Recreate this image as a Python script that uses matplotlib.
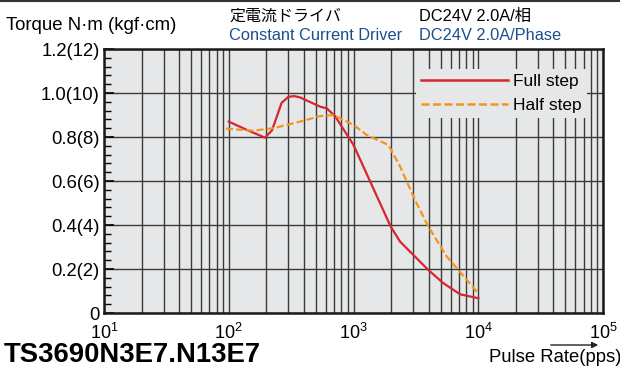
import matplotlib
matplotlib.use("Agg")
import numpy as np
import matplotlib.pyplot as plt
from matplotlib.lines import Line2D
from matplotlib.ticker import FixedLocator, LogLocator, NullFormatter

plt.rcParams['font.family'] = ['Liberation Sans', 'Noto Sans CJK JP', 'DejaVu Sans']
plt.rcParams['mathtext.fontset'] = 'custom'
plt.rcParams['mathtext.rm'] = 'Liberation Sans'

# ---- data ----
full_pps = [100, 140, 195, 222, 242, 265, 300, 334, 373, 540, 611, 711, 1000, 1990, 2366, 3990, 5266, 7160, 10000]
full_torque = [0.87, 0.832, 0.797, 0.83, 0.89, 0.955, 0.982, 0.986, 0.98, 0.938, 0.93, 0.895, 0.764, 0.392, 0.324, 0.195, 0.135, 0.085, 0.067]

half_pps = [95, 157, 228, 373, 540, 690, 1000, 1277, 1905, 2366, 3112, 3990, 5600, 10000]
half_torque = [0.838, 0.829, 0.84, 0.87, 0.895, 0.9, 0.855, 0.809, 0.764, 0.665, 0.514, 0.392, 0.256, 0.09]

y_ticks = [0, 0.2, 0.4, 0.6, 0.8, 1.0, 1.2]
y_labels = ['0', '0.2(2)', '0.4(4)', '0.6(6)', '0.8(8)', '1.0(10)', '1.2(12)']
x_ticks = [10, 100, 1000, 10000, 100000]
x_labels = ['$10^{1}$', '$10^{2}$', '$10^{3}$', '$10^{4}$', '$10^{5}$']

RED = '#d7262e'
ORANGE = '#f7941d'
BLUE = '#1b4f8c'
GRID = '#3a3a3a'

fig = plt.figure(figsize=(6.2, 3.67), dpi=100)
ax = fig.add_axes([104 / 620, 1 - 313 / 367, (603 - 104) / 620, (313 - 49) / 367])
ax.set_facecolor('#e6e7e8')

ax.set_xscale('log')
ax.set_xlim(10, 100000)
ax.set_ylim(0, 1.2)

ax.plot(full_pps, full_torque, color=RED, lw=1.6, label='Full step', zorder=3)
ax.plot(half_pps, half_torque, color=ORANGE, lw=1.6, ls=(0, (3.2, 1.4)), label='Half step', zorder=3)

ax.set_xticks(x_ticks)
ax.set_xticklabels(x_labels, fontsize=13)
ax.xaxis.set_minor_locator(LogLocator(base=10, subs=np.arange(2, 10)))
ax.xaxis.set_minor_formatter(NullFormatter())
ax.set_yticks(y_ticks)
ax.set_yticklabels(y_labels, fontsize=13.3)
ax.yaxis.set_minor_locator(FixedLocator(np.arange(0, 1.21, 0.04)))

ax.grid(which='major', color=GRID, lw=1.0)
ax.grid(which='minor', axis='x', color=GRID, lw=1.0)
ax.set_axisbelow(True)
ax.tick_params(axis='x', which='both', length=0, pad=7)
ax.tick_params(axis='y', which='major', direction='in', length=7, width=1.2, pad=3)
ax.tick_params(axis='y', which='minor', direction='in', length=5, width=1.0)
for s in ax.spines.values():
    s.set_linewidth(1.8)
    s.set_color('#1a1a1a')

leg = ax.legend(loc='upper right', bbox_to_anchor=((587 - 104) / 499, (313 - 69) / 264), fontsize=12.5,
                handlelength=5.0, handletextpad=0.3, labelspacing=0.5,
                frameon=True, facecolor='#e6e7e8', edgecolor='none', framealpha=1,
                borderpad=0.3, borderaxespad=0)
leg.set_zorder(4)
for h in leg.get_lines():
    h.set_linewidth(1.8)

# header texts
fig.text(6 / 620, 1 - 25 / 367, 'Torque N·m (kgf·cm)', fontsize=13.4, va='center', ha='left')
fig.text(229 / 620, 1 - 16 / 367, '定電流ドライバ', fontsize=11.5, va='center', ha='left',
         family=['Noto Sans CJK JP', 'Liberation Sans'])
fig.text(229 / 620, 1 - 35 / 367, 'Constant Current Driver', fontsize=11.8, va='center', ha='left', color=BLUE)
fig.text(419 / 620, 1 - 16 / 367, 'DC24V 2.0A/相', fontsize=11.8, va='center', ha='left')
fig.text(419 / 620, 1 - 35 / 367, 'DC24V 2.0A/Phase', fontsize=11.8, va='center', ha='left', color=BLUE)

fig.text(4 / 620, 1 - 355.5 / 367, 'TS3690N3E7.N13E7', fontsize=19.8, fontweight='bold', va='center', ha='left')
fig.text(489 / 620, 1 - 358 / 367, 'Pulse Rate(pps)', fontsize=13.3, va='center', ha='left')
ax.annotate('', xy=(601 / 620, 1 - 345 / 367), xytext=(548 / 620, 1 - 345 / 367),
            xycoords='figure fraction', textcoords='figure fraction',
            arrowprops=dict(arrowstyle='-|>', color='#222222', lw=1.0, mutation_scale=9))

fig.add_artist(Line2D([0, 1], [0.998, 0.998], transform=fig.transFigure, color='#333333', lw=1.5))

fig.savefig('out.png', dpi=100)
